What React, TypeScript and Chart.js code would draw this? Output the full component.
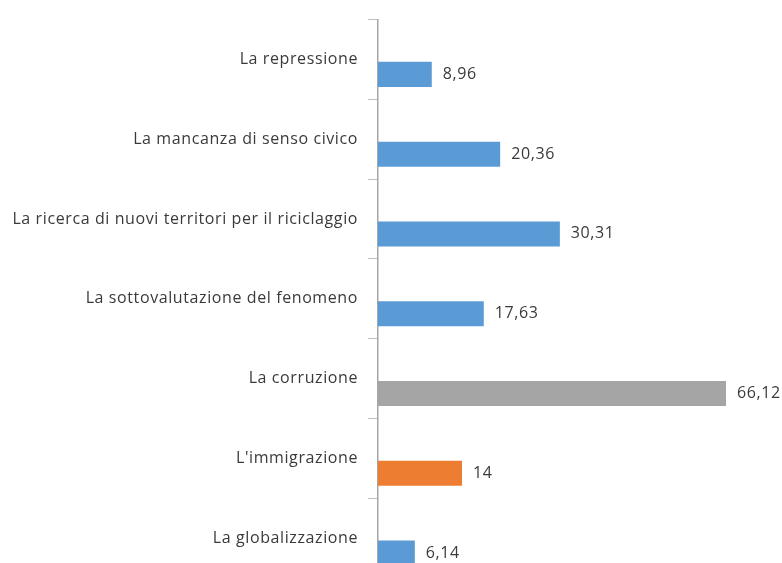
import React, { useEffect, useRef } from "react";
import { Chart, registerables } from "chart.js";

Chart.register(...registerables);

const categories = [
  "La repressione",
  "La mancanza di senso civico",
  "La ricerca di nuovi territori per il riciclaggio",
  "La sottovalutazione del fenomeno",
  "La corruzione",
  "L'immigrazione",
  "La globalizzazione",
];
const values = [8.96, 20.36, 30.31, 17.63, 66.12, 14, 6.14];
const valueLabels = ["8,96", "20,36", "30,31", "17,63", "66,12", "14", "6,14"];
const barColors = ["#5b9bd5", "#5b9bd5", "#5b9bd5", "#5b9bd5", "#a5a5a5", "#ed7d31", "#5b9bd5"];
const emptySeries = [null, null, null, null, null, null, null];
const xMin = 0;
const xMax = 58;

const FONT_FAMILY = "'Open Sans', sans-serif";
const FONT_SIZE = 16;
const LETTER_SPACING = "0.6px";
const TEXT_COLOR = "#3a3a3a";

const letterSpacingPlugin = {
  id: "letterSpacing",
  beforeDraw(chart: any) {
    (chart.ctx as any).letterSpacing = LETTER_SPACING;
  },
  afterDraw(chart: any) {
    (chart.ctx as any).letterSpacing = "0px";
  },
};

const valueLabelPlugin = {
  id: "valueLabels",
  afterDatasetsDraw(chart: any) {
    const { ctx, chartArea } = chart;
    const meta = chart.getDatasetMeta(1);
    ctx.save();
    ctx.font = `${FONT_SIZE}px ${FONT_FAMILY}`;
    (ctx as any).letterSpacing = LETTER_SPACING;
    ctx.fillStyle = TEXT_COLOR;
    ctx.textAlign = "left";
    ctx.textBaseline = "middle";
    meta.data.forEach((bar: any, i: number) => {
      const x = Math.min(bar.x, chartArea.right) + 11;
      ctx.fillText(valueLabels[i], x, bar.y);
    });
    ctx.restore();
  },
};

export default function App() {
  const canvasRef = useRef<HTMLCanvasElement | null>(null);

  useEffect(() => {
    if (!canvasRef.current) return;
    const chart = new Chart(canvasRef.current, {
      type: "bar",
      data: {
        labels: categories,
        datasets: [
          { data: emptySeries as any, backgroundColor: "#ffffff" },
          { data: values, backgroundColor: barColors },
        ],
      },
      options: {
        indexAxis: "y",
        responsive: false,
        animation: false,
        categoryPercentage: 0.747,
        barPercentage: 0.84,
        layout: { padding: { top: 14, right: 56, bottom: 22, left: 0 } },
        plugins: {
          legend: { display: false },
          tooltip: { enabled: false },
        },
        scales: {
          x: {
            display: false,
            min: xMin,
            max: xMax,
          },
          y: {
            type: "category",
            offset: true,
            afterFit: (scale: any) => {
              scale.width = 378;
            },
            grid: {
              offset: true,
              drawOnChartArea: false,
              drawTicks: true,
              tickLength: 10,
              color: "#bfbfbf",
              lineWidth: 1,
            },
            border: { display: true, color: "#a6a6a6", width: 1.5 },
            ticks: {
              padding: 10,
              color: TEXT_COLOR,
              font: { family: FONT_FAMILY, size: FONT_SIZE },
              autoSkip: false,
            },
          },
        },
      },
      plugins: [letterSpacingPlugin, valueLabelPlugin],
    });
    return () => chart.destroy();
  }, []);

  return (
    <div
      style={{
        position: "fixed",
        top: 0,
        left: 0,
        width: 782,
        height: 563,
        overflow: "hidden",
        background: "#ffffff",
      }}
    >
      <canvas ref={canvasRef} width={782} height={600} style={{ display: "block" }} />
    </div>
  );
}
